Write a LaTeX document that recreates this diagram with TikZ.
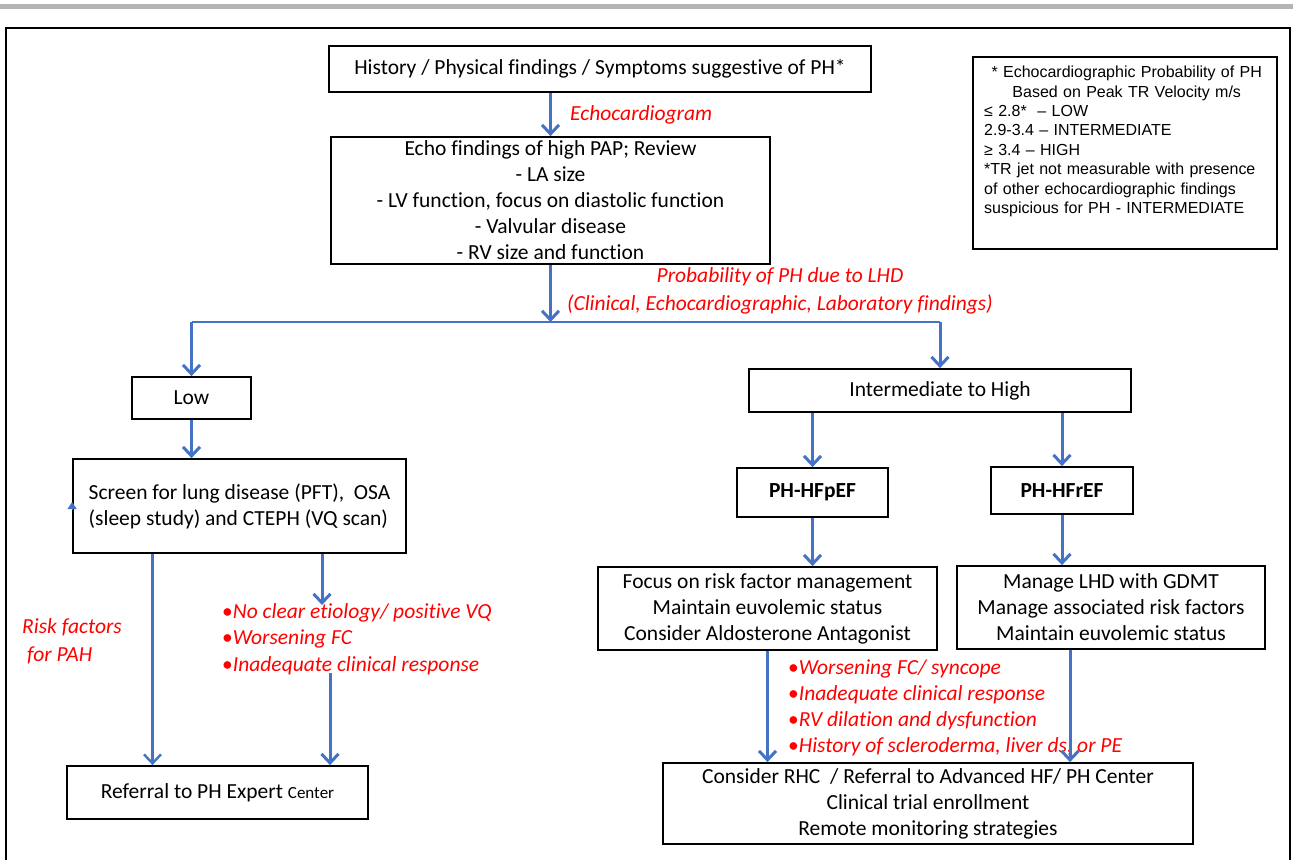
\documentclass[tikz,border=0pt]{standalone}
\usepackage{fontspec}
\setmainfont{Carlito}[Ligatures=NoCommon]
\newfontfamily\legfont{Liberation Sans}
\usepackage{tikz}
\usetikzlibrary{arrows.meta,positioning}
\definecolor{flowc}{HTML}{4472C4}
\definecolor{notec}{HTML}{FF0000}
\definecolor{barc}{HTML}{B4B4B4}
\tikzset{
  ar/.style={-{Straight Barb[length=9pt,width=17pt]},line width=3pt,flowc},
  ln/.style={line width=2.2pt,flowc},
  box/.style={draw,line width=1.8pt,fill=white,align=center,inner sep=0pt,font=\fontsize{21.5}{26}\selectfont},
  note/.style={notec,align=left,inner sep=0pt,font=\fontsize{21.5}{26}\selectfont\itshape}
}
\newcommand{\bul}{\textup{\textbullet}}

\begin{document}
\begin{tikzpicture}[x=1pt,y=-1pt]
\useasboundingbox (0,0) rectangle (1293,860);
\fill[barc] (0,4) rectangle (1293,9);
\draw[line width=1.8pt] (6,860) -- (6,28) -- (1290,28) -- (1290,860);

% top of the chart
\node[box,minimum width=542pt,minimum height=46pt] (hist) at (600,69) {History / Physical findings / Symptoms suggestive of PH*};
\node[box,minimum width=439pt,minimum height=127pt] (echo) at (550.5,200.5) {Echo findings of high PAP; Review\\- LA size\\- LV function, focus on diastolic function\\- Valvular disease\\- RV size and function};
\node[draw,line width=1.8pt,minimum width=304pt,minimum height=192pt] (leg) at (1125,153) {};
\node[anchor=north west,inner sep=0pt,text width=285pt,align=left,font=\legfont\fontsize{16}{19.4}\selectfont] (legtxt) at (984,66)
  {{\centering * Echocardiographic Probability of PH\\Based on Peak TR Velocity m/s\par}
   ≤ 2.8*\ \ – LOW\\2.9-3.4 – INTERMEDIATE\\≥ 3.4 – HIGH\\\relax*TR jet not measurable with presence\\of other echocardiographic findings\\suspicious for PH - INTERMEDIATE};

% left branch
\node[box,minimum width=119pt,minimum height=42pt] (low) at (191.5,398) {Low};
\node[box,align=left,minimum width=333pt,minimum height=94pt] (screen) at (239.5,506) {Screen for lung disease (PFT),\ \ OSA\\(sleep study) and CTEPH (VQ scan)};
\node[box,minimum width=301pt,minimum height=53pt] (referral) at (217.5,792.5) {Referral to PH Expert {\fontsize{17}{18}\selectfont Center}};

% right branch
\node[box,minimum width=382pt,minimum height=43pt] (inter) at (940,390.5) {Intermediate to High};
\node[box,minimum width=151pt,minimum height=49pt,font=\fontsize{21.5}{26}\selectfont\bfseries] (hfpef) at (812.5,492.5) {PH-HFpEF};
\node[box,minimum width=142pt,minimum height=47pt,font=\fontsize{21.5}{26}\selectfont\bfseries] (hfref) at (1062,490.5) {PH-HFrEF};
\node[box,minimum width=339pt,minimum height=83pt] (focus) at (767.5,608.5) {Focus on risk factor management\\Maintain euvolemic status\\Consider Aldosterone Antagonist};
\node[box,minimum width=308pt,minimum height=83pt] (manage) at (1111,607.5) {Manage LHD with GDMT\\Manage associated risk factors\\Maintain euvolemic status};
\node[box,minimum width=530pt,minimum height=81pt] (final) at (928,803.5) {Consider RHC\ \ / Referral to Advanced HF/ PH Center\\Clinical trial enrollment\\Remote monitoring strategies};

% red notes
\node[note,anchor=west] (echonote) at (570,115) {Echocardiogram};
\node[note,align=center,font=\fontsize{21.5}{28}\selectfont\itshape] (probnote) at (780,291) {Probability of PH due to LHD\\(Clinical, Echocardiographic, Laboratory findings)};
\node[note,anchor=west,font=\fontsize{21.5}{28}\selectfont\itshape] (risknote) at (22,641) {Risk factors\\\ for PAH};
\node[note,anchor=west,font=\fontsize{21.5}{26.5}\selectfont\itshape] (leftnote) at (222,639) {\bul No clear etiology/ positive VQ\\\bul Worsening FC\\\bul Inadequate clinical response};
\node[note,anchor=west] (rightnote) at (788,708) {\bul Worsening FC/ syncope\\\bul Inadequate clinical response\\\bul RV dilation and dysfunction\\\bul History of scleroderma, liver ds, or PE};

% connectors
\coordinate (fork) at (550.5,322);
\draw[ar] (hist.south -| echo.north) -- (echo.north);
\draw[ar] (echo.south) -- (fork);
\draw[ln] (low.north |- fork) -- (inter.north |- fork);
\draw[ar] (low.north |- fork) -- (low.north);
\draw[ar] (inter.north |- fork) -- (inter.north);
\draw[ar] (low.south) -- (low.south |- screen.north);
\draw[-{Triangle[length=7pt,width=9pt]},line width=1pt,flowc] ([yshift=-4pt]screen.west) -- ([yshift=4pt]screen.west);
\draw[ar,line width=2.4pt] ([xshift=-87pt]screen.south) -- ([xshift=-87pt]screen.south |- referral.north);
\coordinate (scrout) at (322,605);
\draw[ar] (screen.south -| scrout) -- (scrout);
\coordinate (refin) at (330,673);
\draw[ar] (refin) -- (refin |- referral.north);
\draw[ar] (inter.south -| hfpef.north) -- (hfpef.north);
\draw[ar] (inter.south -| hfref.north) -- (hfref.north);
\draw[ar] (hfpef.south) -- (hfpef.south |- focus.north);
\draw[ar] (hfref.south) -- (hfref.south |- manage.north);
\draw[ar] (focus.south) -- (focus.south |- final.north);
\draw[ar] ([xshift=-41pt]manage.south) -- ([xshift=-41pt]manage.south |- final.north);
\end{tikzpicture}
\end{document}
